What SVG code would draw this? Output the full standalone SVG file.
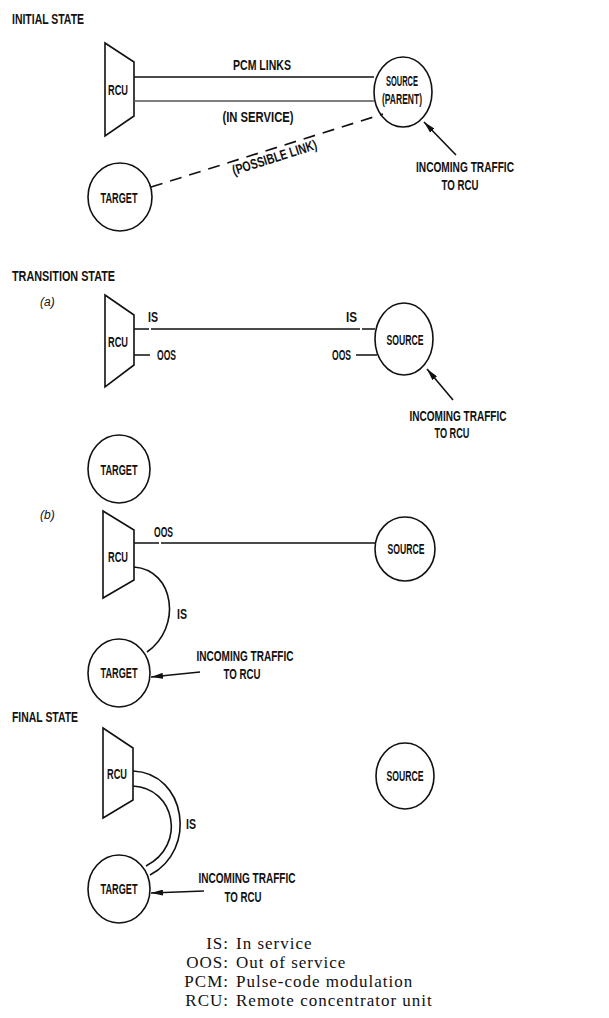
<svg xmlns="http://www.w3.org/2000/svg" width="609" height="1018" viewBox="0 0 609 1018">
<style>
.bg{fill:#fff}
.sh{fill:none;stroke:#111;stroke-width:1.6}
.ln{fill:none;stroke:#111;stroke-width:1.6}
.lg2{stroke:#555}
.dash{stroke-dasharray:12 8}
.lb{font-family:"Liberation Sans",Arial,sans-serif;font-size:14px;font-weight:bold;fill:#111}
.c{text-anchor:middle}
.it{font-family:"Liberation Sans",Arial,sans-serif;font-size:12px;font-style:italic;fill:#111}
.lg{font-family:"Liberation Serif","Times New Roman",serif;font-size:17px;letter-spacing:1px;fill:#111}
.r{text-anchor:end}
</style>
<defs>
<marker id="ah" viewBox="0 0 12 6" refX="12" refY="3" markerWidth="12" markerHeight="6" markerUnits="userSpaceOnUse" orient="auto">
<path d="M0,0 L12,3 L0,6 z" fill="#111"/>
</marker>
</defs>
<rect class="bg" x="0" y="0" width="609" height="1018"/>

<g id="titles">
<text class="lb" x="12" y="24" textLength="72" lengthAdjust="spacingAndGlyphs">INITIAL STATE</text>
<text class="lb" x="12" y="281" textLength="103" lengthAdjust="spacingAndGlyphs">TRANSITION STATE</text>
<text class="it" x="40" y="306">(a)</text>
<text class="it" x="40" y="519">(b)</text>
<text class="lb" x="12" y="722" textLength="66" lengthAdjust="spacingAndGlyphs">FINAL STATE</text>
</g>

<!-- INITIAL STATE -->
<g id="rcu-initial">
<polygon class="sh" points="105,43 134,62 134,116 105,136"/>
<text class="lb c" x="118" y="95" textLength="20" lengthAdjust="spacingAndGlyphs">RCU</text>
</g>
<g id="source-initial">
<ellipse class="sh" cx="403" cy="92" rx="29" ry="35"/>
<text class="lb c" x="402" y="86" textLength="32" lengthAdjust="spacingAndGlyphs">SOURCE</text>
<text class="lb c" x="402" y="104" textLength="40" lengthAdjust="spacingAndGlyphs">(PARENT)</text>
</g>
<g id="target-initial">
<ellipse class="sh" cx="120" cy="197" rx="32" ry="34"/>
<text class="lb c" x="119" y="203" textLength="37" lengthAdjust="spacingAndGlyphs">TARGET</text>
</g>

<!-- TRANSITION (a) -->
<g id="rcu-a">
<polygon class="sh" points="105,295 134,315 134,365 105,387"/>
<text class="lb c" x="118" y="347" textLength="20" lengthAdjust="spacingAndGlyphs">RCU</text>
</g>
<g id="source-a">
<ellipse class="sh" cx="404" cy="339" rx="29" ry="36"/>
<text class="lb c" x="405" y="345" textLength="37" lengthAdjust="spacingAndGlyphs">SOURCE</text>
</g>
<g id="target-a">
<ellipse class="sh" cx="119" cy="469" rx="31" ry="34"/>
<text class="lb c" x="119" y="475" textLength="37" lengthAdjust="spacingAndGlyphs">TARGET</text>
</g>

<!-- TRANSITION (b) -->
<g id="rcu-b">
<polygon class="sh" points="103,511 134,530 134,580 103,598"/>
<text class="lb c" x="118" y="562" textLength="20" lengthAdjust="spacingAndGlyphs">RCU</text>
</g>
<g id="source-b">
<ellipse class="sh" cx="405" cy="549" rx="30" ry="32"/>
<text class="lb c" x="406" y="554" textLength="37" lengthAdjust="spacingAndGlyphs">SOURCE</text>
</g>
<g id="target-b">
<ellipse class="sh" cx="119" cy="673" rx="31" ry="34"/>
<text class="lb c" x="119" y="678" textLength="37" lengthAdjust="spacingAndGlyphs">TARGET</text>
</g>

<!-- FINAL -->
<g id="rcu-final">
<polygon class="sh" points="103,728 133,748 133,800 103,818"/>
<text class="lb c" x="117" y="779" textLength="20" lengthAdjust="spacingAndGlyphs">RCU</text>
</g>
<g id="source-final">
<ellipse class="sh" cx="405" cy="776" rx="29" ry="33"/>
<text class="lb c" x="405" y="781" textLength="37" lengthAdjust="spacingAndGlyphs">SOURCE</text>
</g>
<g id="target-final">
<ellipse class="sh" cx="119" cy="889" rx="31" ry="34"/>
<text class="lb c" x="119" y="894" textLength="37" lengthAdjust="spacingAndGlyphs">TARGET</text>
</g>

<g id="connectors">
<!-- initial -->
<line class="ln" x1="134" y1="77" x2="374" y2="77"/>
<line class="ln lg2" x1="134" y1="101" x2="374" y2="101"/>
<line class="ln dash" x1="151" y1="187" x2="383" y2="114"/>
<line class="ln" x1="456" y1="155" x2="424" y2="122" marker-end="url(#ah)"/>
<!-- (a) -->
<path class="ln" d="M134,329 H149 M151,329 H360 M362,329 H375"/>
<path class="ln" d="M134,355 H150 M356,355 H377"/>
<line class="ln" x1="453" y1="400" x2="427" y2="369" marker-end="url(#ah)"/>
<!-- (b) -->
<path class="ln" d="M134,543 H159 M161,543 H375"/>
<path class="ln" d="M134,567 C175,570 182,628 147,652"/>
<line class="ln" x1="200" y1="672" x2="151" y2="677" marker-end="url(#ah)"/>
<!-- final -->
<path class="ln" d="M133,771 C186,773 198,850 150,875"/>
<path class="ln" d="M133,786 C175,788 187,845 146,866"/>
<line class="ln" x1="204" y1="891" x2="151" y2="893" marker-end="url(#ah)"/>
</g>

<g id="labels">
<text class="lb c" x="262" y="70" textLength="58" lengthAdjust="spacingAndGlyphs">PCM LINKS</text>
<text class="lb c" x="258" y="122" textLength="71" lengthAdjust="spacingAndGlyphs">(IN SERVICE)</text>
<text class="lb c" x="276" y="162" transform="rotate(-17.5 276 162)" textLength="88" lengthAdjust="spacingAndGlyphs">(POSSIBLE LINK)</text>
<text class="lb c" x="465" y="172" textLength="98" lengthAdjust="spacingAndGlyphs">INCOMING TRAFFIC</text>
<text class="lb c" x="460" y="190" textLength="37" lengthAdjust="spacingAndGlyphs">TO RCU</text>

<text class="lb" x="148" y="322" textLength="10" lengthAdjust="spacingAndGlyphs">IS</text>
<text class="lb" x="346" y="322" textLength="11" lengthAdjust="spacingAndGlyphs">IS</text>
<text class="lb" x="157" y="360" textLength="19" lengthAdjust="spacingAndGlyphs">OOS</text>
<text class="lb" x="332" y="360" textLength="19" lengthAdjust="spacingAndGlyphs">OOS</text>
<text class="lb c" x="458" y="421" textLength="97" lengthAdjust="spacingAndGlyphs">INCOMING TRAFFIC</text>
<text class="lb c" x="452" y="438" textLength="35" lengthAdjust="spacingAndGlyphs">TO RCU</text>

<text class="lb" x="154" y="537" textLength="19" lengthAdjust="spacingAndGlyphs">OOS</text>
<text class="lb" x="177" y="619" textLength="10" lengthAdjust="spacingAndGlyphs">IS</text>
<text class="lb c" x="245" y="661" textLength="97" lengthAdjust="spacingAndGlyphs">INCOMING TRAFFIC</text>
<text class="lb c" x="242" y="679" textLength="37" lengthAdjust="spacingAndGlyphs">TO RCU</text>

<text class="lb" x="186" y="829" textLength="10" lengthAdjust="spacingAndGlyphs">IS</text>
<text class="lb c" x="247" y="883" textLength="97" lengthAdjust="spacingAndGlyphs">INCOMING TRAFFIC</text>
<text class="lb c" x="243" y="902" textLength="37" lengthAdjust="spacingAndGlyphs">TO RCU</text>
</g>

<g id="legend">
<text class="lg r" x="229" y="949">IS:</text>
<text class="lg r" x="229" y="968">OOS:</text>
<text class="lg r" x="229" y="987">PCM:</text>
<text class="lg r" x="229" y="1006">RCU:</text>
<text class="lg" x="236" y="949">In service</text>
<text class="lg" x="236" y="968">Out of service</text>
<text class="lg" x="236" y="987">Pulse-code modulation</text>
<text class="lg" x="236" y="1006">Remote concentrator unit</text>
</g>
</svg>
